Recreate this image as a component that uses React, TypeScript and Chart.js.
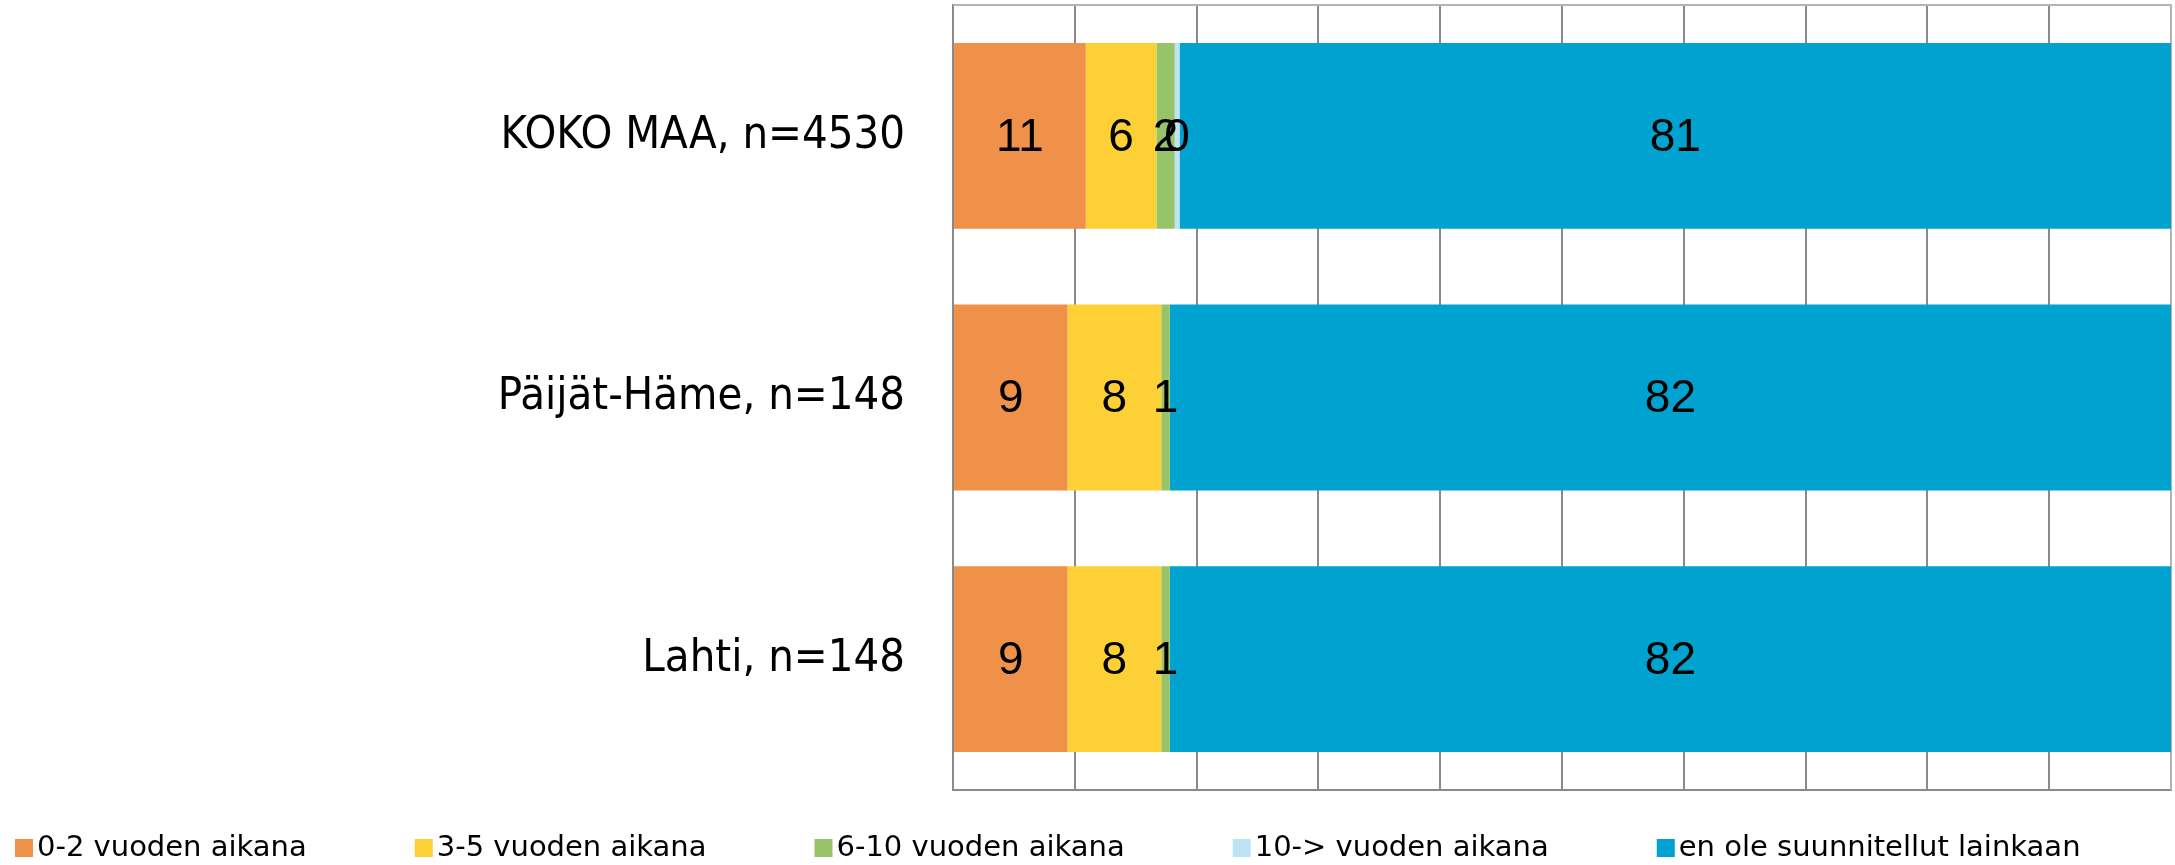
import React, { useEffect, useRef } from 'react';
import { Chart, registerables } from 'chart.js';

Chart.register(...registerables);

const categories = ['KOKO MAA, n=4530', 'Päijät-Häme, n=148', 'Lahti, n=148'];
const seriesNames = [
  '0-2 vuoden aikana',
  '3-5 vuoden aikana',
  '6-10 vuoden aikana',
  '10-> vuoden aikana',
  'en ole suunnitellut lainkaan',
];
const within0to2 = [10.9, 9.4, 9.4];
const within3to5 = [5.8, 7.7, 7.7];
const within6to10 = [1.5, 0.7, 0.7];
const over10 = [0.4, 0, 0];
const notPlanned = [81.4, 82.2, 82.2];
const seriesColors = ['#F0914A', '#FDD036', '#97C36A', '#BEE3F5', '#00A3D0'];
const xMin = 0;
const xMax = 100;
const xStep = 10;

const W = 2175;
const H = 865;

const valueLabelPlugin = {
  id: 'valueLabels',
  afterDatasetsDraw(chart: any) {
    const ctx = chart.ctx;
    ctx.save();
    ctx.font = '46px "Liberation Sans", Arial, sans-serif';
    ctx.fillStyle = '#000';
    ctx.textAlign = 'center';
    ctx.textBaseline = 'middle';
    chart.data.datasets.forEach((ds: any, di: number) => {
      const meta = chart.getDatasetMeta(di);
      meta.data.forEach((el: any, i: number) => {
        const v = ds.data[i];
        if (!v) return;
        const p = el.getProps(['x', 'base', 'y'], true);
        ctx.fillText(String(Math.round(v)), (p.x + p.base) / 2, p.y + 2);
      });
    });
    ctx.restore();
  },
};

const frameAndLegendPlugin = {
  id: 'frameAndLegend',
  beforeDatasetsDraw(chart: any) {
    const { ctx, chartArea } = chart;
    ctx.save();
    ctx.strokeStyle = '#B4B4B4';
    ctx.lineWidth = 2;
    ctx.beginPath();
    ctx.moveTo(chartArea.left, chartArea.top);
    ctx.lineTo(chartArea.right, chartArea.top);
    ctx.lineTo(chartArea.right, chartArea.bottom);
    ctx.stroke();
    ctx.restore();
  },
  afterDraw(chart: any) {
    const { ctx, chartArea } = chart;
    ctx.save();
    ctx.font = '29px "DejaVu Sans", sans-serif';
    ctx.textBaseline = 'middle';
    ctx.textAlign = 'left';
    let x = 15;
    const y = chartArea.bottom + 58;
    chart.data.datasets.forEach((ds: any) => {
      ctx.fillStyle = ds.backgroundColor;
      ctx.fillRect(x, y - 9, 18, 18);
      ctx.fillStyle = '#000';
      ctx.fillText(ds.label, x + 22, y);
      x += 22 + ctx.measureText(ds.label).width + 108;
    });
    ctx.restore();
  },
};

export default function App() {
  const ref = useRef<HTMLCanvasElement | null>(null);

  useEffect(() => {
    if (!ref.current) return;
    const seriesValues = [within0to2, within3to5, within6to10, over10, notPlanned];
    const chart = new Chart(ref.current, {
      type: 'bar',
      data: {
        labels: categories,
        datasets: seriesNames.map((name, i) => ({
          label: name,
          data: seriesValues[i],
          backgroundColor: seriesColors[i],
          borderWidth: 0,
          categoryPercentage: 1,
          barPercentage: 0.71,
        })),
      },
      options: {
        indexAxis: 'y',
        animation: false,
        responsive: false,
        devicePixelRatio: 1,
        layout: { padding: { left: 0, right: 4, top: 5, bottom: 75 } },
        plugins: {
          legend: { display: false },
          tooltip: { enabled: false },
        },
        scales: {
          x: {
            stacked: true,
            min: xMin,
            max: xMax,
            ticks: { display: false, stepSize: xStep },
            grid: {
              drawTicks: false,
              lineWidth: 2,
              color: (c: any) => (c.tick && c.tick.value === xMax ? '#B4B4B4' : '#8A8A8A'),
            },
            border: { display: true, color: '#8A8A8A', width: 2 },
          },
          y: {
            stacked: true,
            grid: { display: false, drawTicks: false },
            border: { display: true, color: '#8A8A8A', width: 2 },
            ticks: {
              color: '#000',
              padding: 48,
              font: { family: '"DejaVu Sans Condensed", "DejaVu Sans", sans-serif', size: 45 },
            },
            afterFit: (scale: any) => {
              scale.width = 953;
              scale.paddingTop = 0;
              scale.paddingBottom = 0;
            },
          },
        },
      },
      plugins: [valueLabelPlugin, frameAndLegendPlugin],
    } as any);
    return () => chart.destroy();
  }, []);

  return (
    <div style={{ position: 'absolute', left: 0, top: 0, width: W, height: H, background: '#fff' }}>
      <canvas ref={ref} width={W} height={H} style={{ width: W, height: H, display: 'block' }} />
    </div>
  );
}
